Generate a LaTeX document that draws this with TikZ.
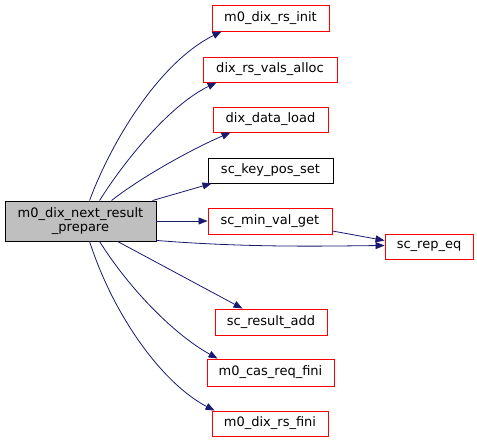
\documentclass[tikz,border=0pt]{standalone}
\usepackage{fontspec}
\setmainfont{DejaVu Sans}
\usetikzlibrary{arrows.meta,calc}
\definecolor{edgeblue}{HTML}{191970}
\definecolor{mainfill}{HTML}{BFBFBF}
\tikzset{
  fn/.style={draw=red, fill=white, line width=0.9pt, inner sep=0pt, font=\fontsize{13}{14}\selectfont, align=center},
  fnblack/.style={fn, draw=black},
  mainbox/.style={fn, draw=black, fill=mainfill},
  call/.style={draw=edgeblue, line width=0.8pt, -{Triangle[length=9pt,width=7pt]}},
}
\begin{document}
\begin{tikzpicture}[x=1pt,y=-1pt]
\useasboundingbox (0,0) rectangle (477,443);
\node[mainbox, minimum width=151pt, minimum height=40pt] (main) at (80.5,221) {m0\_dix\_next\_result\\\_prepare};
\node[fn, minimum width=117pt, minimum height=26pt] (init) at (270.5,18) {m0\_dix\_rs\_init};
\node[fn, minimum width=134pt, minimum height=25pt] (alloc) at (270,69.5) {dix\_rs\_vals\_alloc};
\node[fn, minimum width=115pt, minimum height=25pt] (load) at (270.5,119.5) {dix\_data\_load};
\node[fnblack, minimum width=125pt, minimum height=25pt] (keypos) at (270.5,170.5) {sc\_key\_pos\_set};
\node[fn, minimum width=124pt, minimum height=26pt] (minval) at (270,221) {sc\_min\_val\_get};
\node[fn, minimum width=88pt, minimum height=25pt] (repeq) at (429,246.5) {sc\_rep\_eq};
\node[fn, minimum width=112pt, minimum height=26pt] (resadd) at (271,322) {sc\_result\_add};
\node[fn, minimum width=127pt, minimum height=27pt] (casfini) at (270.5,372.5) {m0\_cas\_req\_fini};
\node[fn, minimum width=116pt, minimum height=25pt] (rsfini) at (270,423.5) {m0\_dix\_rs\_fini};

\draw[call] ($(main.north west)+(85,0)$) .. controls (112,140) and (160,62) .. ($(init.south west)+(10,0)$);
\draw[call] ($(main.north west)+(95,0)$) .. controls (125,160) and (170,105) .. ($(alloc.south west)+(14,0)$);
\draw[call] ($(main.north west)+(107,0)$) .. controls (140,178) and (190,150) .. ($(load.south west)+(18,0)$);
\draw[call] ($(main.north east)+(-4,0)$) -- ($(keypos.south west)+(4,0)$);
\draw[call] (main.east) -- (minval.west);
\draw[call] ($(main.south east)+(0,-1)$) .. controls (250,248) and (330,246) .. ($(repeq.west)+(0,-1)$);
\draw[call] ($(minval.east)+(0,10)$) -- ($(repeq.west)+(0,-6)$);
\draw[call] ($(main.south west)+(113,0)$) -- ($(resadd.north west)+(28,0)$);
\draw[call] ($(main.south west)+(95,0)$) .. controls (130,290) and (175,335) .. ($(casfini.north west)+(11,0)$);
\draw[call] ($(main.south west)+(85,0)$) .. controls (115,320) and (165,385) .. ($(rsfini.north west)+(3,0)$);
\end{tikzpicture}
\end{document}
